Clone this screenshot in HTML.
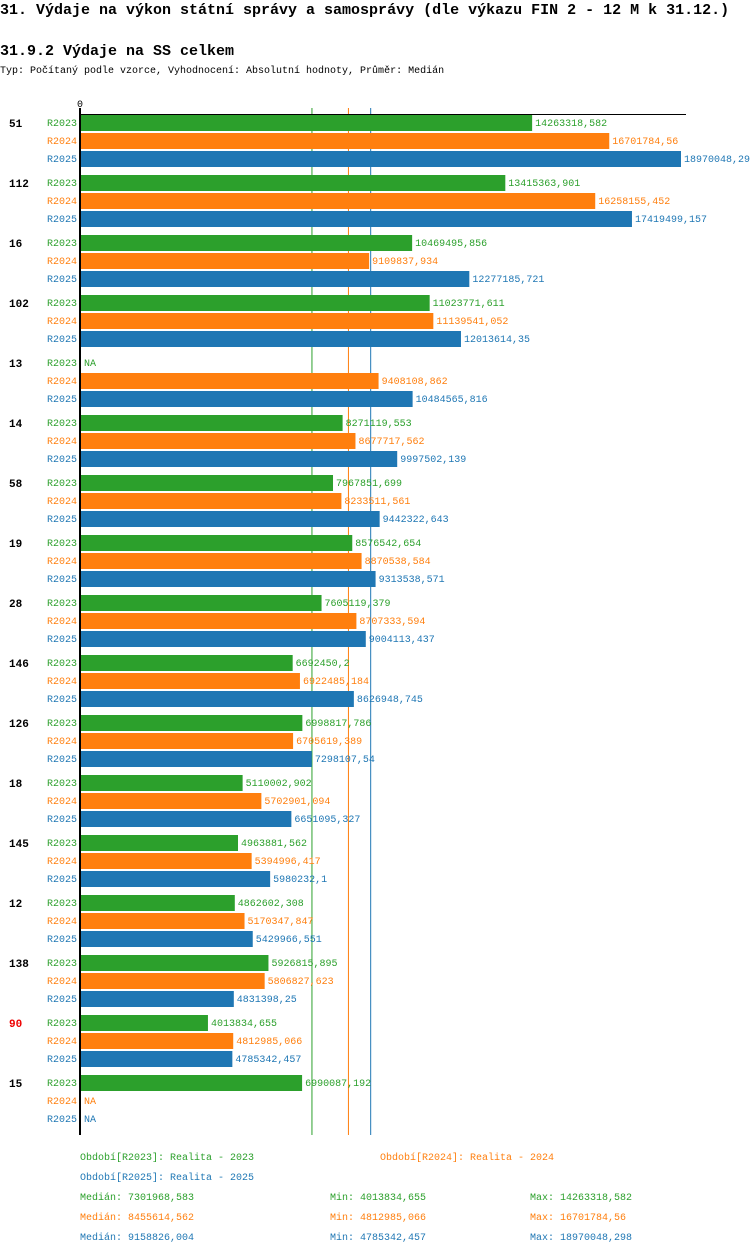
<!DOCTYPE html>
<html><head><meta charset="utf-8">
<style>
body{margin:0;background:#fff;width:750px;height:1254px;overflow:hidden;font-family:"Liberation Mono",monospace;}
.t1{position:absolute;left:0;top:2px;font-size:15px;font-weight:bold;white-space:nowrap;}
.t2{position:absolute;left:0;top:43px;font-size:15px;font-weight:bold;white-space:nowrap;}
.t3{position:absolute;left:0;top:66px;font-size:10px;white-space:nowrap;}
svg{position:absolute;left:0;top:0;}
</style></head><body>
<div class="t1">31. Výdaje na výkon státní správy a samosprávy (dle výkazu FIN 2 - 12 M k 31.12.)</div>
<div class="t2">31.9.2 Výdaje na SS celkem</div>
<div class="t3">Typ: Počítaný podle vzorce, Vyhodnocení: Absolutní hodnoty, Průměr: Medián</div>
<svg id="c" width="750" height="1254"></svg>
<script>
const categories=["51","112","16","102","13","14","58","19","28","146","126","18","145","12","138","90","15"];
const r2023=[14263318.582,13415363.901,10469495.856,11023771.611,null,8271119.553,7967851.699,8576542.654,7605119.379,6692450.2,6998817.786,5110002.902,4963881.562,4862602.308,5926815.895,4013834.655,6990087.192];
const r2024=[16701784.56,16258155.452,9109837.934,11139541.052,9408108.862,8677717.562,8233511.561,8870538.584,8707333.594,6922485.184,6705619.389,5702901.094,5394996.417,5170347.847,5806827.623,4812985.066,null];
const r2025=[18970048.29,17419499.157,12277185.721,12013614.35,10484565.816,9997502.139,9442322.643,9313538.571,9004113.437,8626948.745,7298107.54,6651095.327,5980232.1,5429966.551,4831398.25,4785342.457,null];
const seriesNames=["R2023","R2024","R2025"];
const medians=[7301968.583,8455614.562,9158826.004];
const mins=["4013834,655","4812985,066","4785342,457"];
const maxs=["14263318,582","16701784,56","18970048,298"];
const colors=["#2ca02c","#ff7f0e","#1f77b4"];
const svgEl=document.getElementById('c');
const NS="http://www.w3.org/2000/svg";
const x0=81, xmax=18970048.29, xw=600;
const xs=v=>x0+v/xmax*xw;
const seriesAll=[r2023,r2024,r2025];
function el(t,a,txt){const e=document.createElementNS(NS,t);for(const k in a)e.setAttribute(k,a[k]);if(txt!=null)e.textContent=txt;svgEl.appendChild(e);return e;}
function fmt(v){return String(v).replace('.',',');}
const y0=114;
medians.forEach((m,s)=>{
  const l=el('line',{x1:xs(m),y1:108,x2:xs(m),y2:1135,stroke:colors[s],'stroke-width':1});
  
  
});
const axisLine=el('line',{x1:x0-1,y1:108,x2:x0-1,y2:1135,stroke:'#000','stroke-width':2});


const topLine=el('line',{x1:x0,y1:114.5,x2:686,y2:114.5,stroke:'#000','stroke-width':1});


const zeroT=el('text',{x:x0-1,y:107,'font-size':10,'text-anchor':'middle','font-family':'Liberation Mono'},'0');


categories.forEach((c,i)=>{
  const gy=y0+i*60;
  const g=el('text',{x:9,y:gy+13,'font-size':11,'font-weight':'bold',fill:c==="90"?'#e00':'#000','font-family':'Liberation Mono'},c);
  
  
  for(let s=0;s<3;s++){
    const y=gy+s*18, v=seriesAll[s][i];
    const l=el('text',{x:77,y:y+12,'font-size':10,'text-anchor':'end',fill:colors[s],'font-family':'Liberation Mono'},seriesNames[s]);
    
    
    if(v==null){
      const n=el('text',{x:x0+3,y:y+12,'font-size':10,fill:colors[s],'font-family':'Liberation Mono'},'NA');
      
      
      continue;
    }
    const b=el('rect',{x:x0,y:y+1,width:xs(v)-x0,height:16,fill:colors[s]});
    
    
    const t=el('text',{x:xs(v)+3,y:y+12,'font-size':10,fill:colors[s],'font-family':'Liberation Mono'},fmt(v));
    
    
  }
});
const leg=[["Období[R2023]: Realita - 2023",80,1160,0],["Období[R2024]: Realita - 2024",380,1160,1],["Období[R2025]: Realita - 2025",80,1180,2]];
leg.forEach(a=>{const t=el('text',{x:a[1],y:a[2],'font-size':10,fill:colors[a[3]],'font-family':'Liberation Mono'},a[0]);

});
for(let s=0;s<3;s++){
  const y=1200+s*20;
  const a=el('text',{x:80,y:y,'font-size':10,fill:colors[s],'font-family':'Liberation Mono'},'Medián: '+fmt(medians[s]));
  
  
  const b=el('text',{x:330,y:y,'font-size':10,fill:colors[s],'font-family':'Liberation Mono'},'Min: '+mins[s]);
  
  
  const d=el('text',{x:530,y:y,'font-size':10,fill:colors[s],'font-family':'Liberation Mono'},'Max: '+maxs[s]);
  
  
}
</script>
</body></html>
